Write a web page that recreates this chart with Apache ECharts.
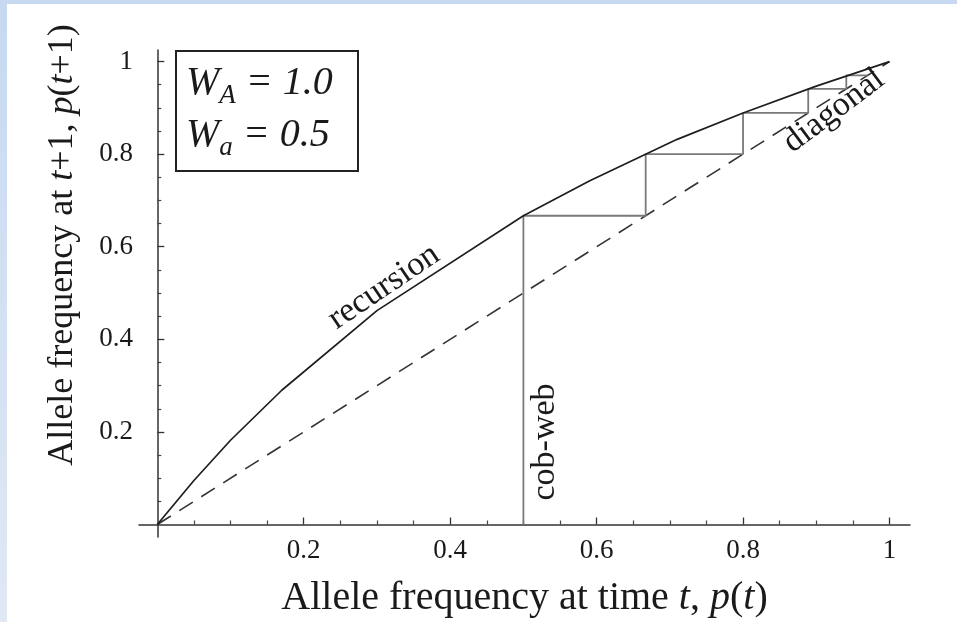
<!DOCTYPE html>
<html>
<head>
<meta charset="utf-8">
<script src="https://cdn.jsdelivr.net/npm/echarts@6/dist/echarts.min.js"></script>
<style>
  html, body { margin: 0; padding: 0; background: #fff; }
  #chart { width: 957px; height: 622px; }
</style>
</head>
<body>
<div id="chart"></div>
<script>
var recursionX = [0, 0.05, 0.1, 0.17, 0.3, 0.5, 0.59, 0.71, 0.8, 0.9, 1];
var recursionY = [0, 0.095, 0.182, 0.29, 0.462, 0.667, 0.742, 0.832, 0.889, 0.947, 1];
// dashed diagonal p(t+1) = p(t)
var diagonalX = [0, 1];
var diagonalY = [0, 1];
// cob-web path, corner by corner
var cobwebX = [0.5, 0.5, 0.667, 0.667, 0.8, 0.8, 0.889, 0.889, 0.941, 0.941, 0.97];
var cobwebY = [0, 0.667, 0.667, 0.8, 0.8, 0.889, 0.889, 0.941, 0.941, 0.97, 0.97];
// ticks
var majorTicks = [0.2, 0.4, 0.6, 0.8, 1];
var minorTicks = [0.05, 0.1, 0.15, 0.25, 0.3, 0.35, 0.45, 0.5, 0.55, 0.65, 0.7, 0.75, 0.85, 0.9, 0.95];

var SERIF = '"Liberation Serif", "DejaVu Serif", serif';
var INK = '#1a1a1a';

function pairs(xs, ys) {
  var out = [];
  for (var i = 0; i < xs.length; i++) out.push([xs[i], ys[i]]);
  return out;
}

var chart = echarts.init(document.getElementById('chart'));

// main axis: line, major ticks, labels
function mainAxis(extra) {
  return Object.assign({
    type: 'value',
    gridIndex: 0,
    axisLine: { show: true, onZero: true, onZeroAxisIndex: 0, lineStyle: { color: '#333', width: 1.5 } },
    axisTick: { show: true, inside: true, length: 7, customValues: majorTicks, lineStyle: { color: '#333', width: 1.3 } },
    splitLine: { show: false }
  }, extra);
}
// second axis only for the short minor ticks
function minorAxis(extra) {
  return Object.assign({
    type: 'value',
    gridIndex: 0,
    axisLine: { show: false, onZero: true, onZeroAxisIndex: 0 },
    axisTick: { show: true, inside: true, length: 4, customValues: minorTicks, lineStyle: { color: '#444', width: 1.2 } },
    axisLabel: { show: false },
    splitLine: { show: false }
  }, extra);
}

chart.setOption({
  backgroundColor: '#fff',
  animation: false,
  grid: { left: 139, right: 47, top: 50, bottom: 85, outerBoundsMode: 'none', containLabel: false },
  xAxis: [
    mainAxis({
      min: -0.025, max: 1.028, position: 'bottom',
      // labels sit relative to the grid edge (12px under the zero line)
      axisLabel: { show: true, customValues: majorTicks, color: INK, fontFamily: SERIF, fontSize: 27, margin: 0 },
      name: 'Allele frequency at time {i|t}, {i|p}({i|t})',
      nameLocation: 'middle',
      nameGap: 41,
      nameTextStyle: {
        color: INK, fontFamily: SERIF, fontSize: 40,
        rich: { i: { fontStyle: 'italic', fontFamily: SERIF, fontSize: 40, color: INK } }
      }
    }),
    minorAxis({ min: -0.025, max: 1.028, position: 'bottom' })
  ],
  yAxis: [
    mainAxis({
      min: -0.027, max: 1.025, position: 'left',
      axisLabel: { show: true, customValues: majorTicks, color: INK, fontFamily: SERIF, fontSize: 27, margin: 6 },
      name: 'Allele frequency at {i|t}+1, {i|p}({i|t}+1)',
      nameLocation: 'middle',
      nameGap: 58,
      nameTextStyle: {
        color: INK, fontFamily: SERIF, fontSize: 36, padding: [0, 0, 0, 97],
        rich: { i: { fontStyle: 'italic', fontFamily: SERIF, fontSize: 36, color: INK } }
      }
    }),
    minorAxis({ min: -0.027, max: 1.025, position: 'left' })
  ],
  series: [
    {
      name: 'diagonal', type: 'line', xAxisIndex: 0, yAxisIndex: 0,
      showSymbol: false, silent: true,
      lineStyle: { color: '#333', width: 1.6, type: [16, 10] },
      data: pairs(diagonalX, diagonalY)
    },
    {
      name: 'cob-web', type: 'line', xAxisIndex: 0, yAxisIndex: 0,
      showSymbol: false, silent: true,
      lineStyle: { color: '#7a7a7a', width: 1.8 },
      data: pairs(cobwebX, cobwebY)
    },
    {
      name: 'recursion', type: 'line', xAxisIndex: 0, yAxisIndex: 0,
      showSymbol: false, silent: true,
      lineStyle: { color: '#1e1e1e', width: 1.7 },
      data: pairs(recursionX, recursionY)
    }
  ],
  graphic: [
    // light blue frame on top and left
    { type: 'rect', left: 0, top: 0, shape: { width: 957, height: 4 }, style: { fill: '#c6d9f1' }, silent: true },
    {
      type: 'rect', left: 0, top: 0, shape: { width: 7, height: 622 }, silent: true,
      style: {
        fill: new echarts.graphic.LinearGradient(0, 0, 0, 1, [
          { offset: 0, color: '#c6d9f1' }, { offset: 1, color: '#e0e8f4' }
        ])
      }
    },
    // parameter box
    { type: 'rect', shape: { x: 176, y: 51, width: 182, height: 120 }, style: { fill: '#fff', stroke: '#222', lineWidth: 2 }, z: 10 },
    {
      type: 'text', x: 186, y: 57, z: 11,
      style: {
        text: '{w|W}{s|A}{w| = 1.0}\n{w|W}{s|a}{w| = 0.5}',
        align: 'left', verticalAlign: 'top',
        rich: {
          w: { fontFamily: SERIF, fontStyle: 'italic', fontSize: 40, lineHeight: 52, fill: INK },
          s: { fontFamily: SERIF, fontStyle: 'italic', fontSize: 27, verticalAlign: 'bottom', fill: INK }
        }
      }
    },
    // curve labels
    {
      type: 'text', x: 384, y: 287, rotation: 34 * Math.PI / 180, z: 11,
      style: { text: 'recursion', fontFamily: SERIF, fontSize: 34, fill: INK, align: 'center', verticalAlign: 'middle' }
    },
    {
      type: 'text', x: 545, y: 442, rotation: Math.PI / 2, z: 11,
      style: { text: 'cob-web', fontFamily: SERIF, fontSize: 34, fill: INK, align: 'center', verticalAlign: 'middle' }
    },
    {
      type: 'text', x: 834, y: 111, rotation: 37 * Math.PI / 180, z: 11,
      style: { text: 'diagonal', fontFamily: SERIF, fontSize: 34, fill: INK, align: 'center', verticalAlign: 'middle' }
    }
  ]
});
</script>
</body>
</html>
